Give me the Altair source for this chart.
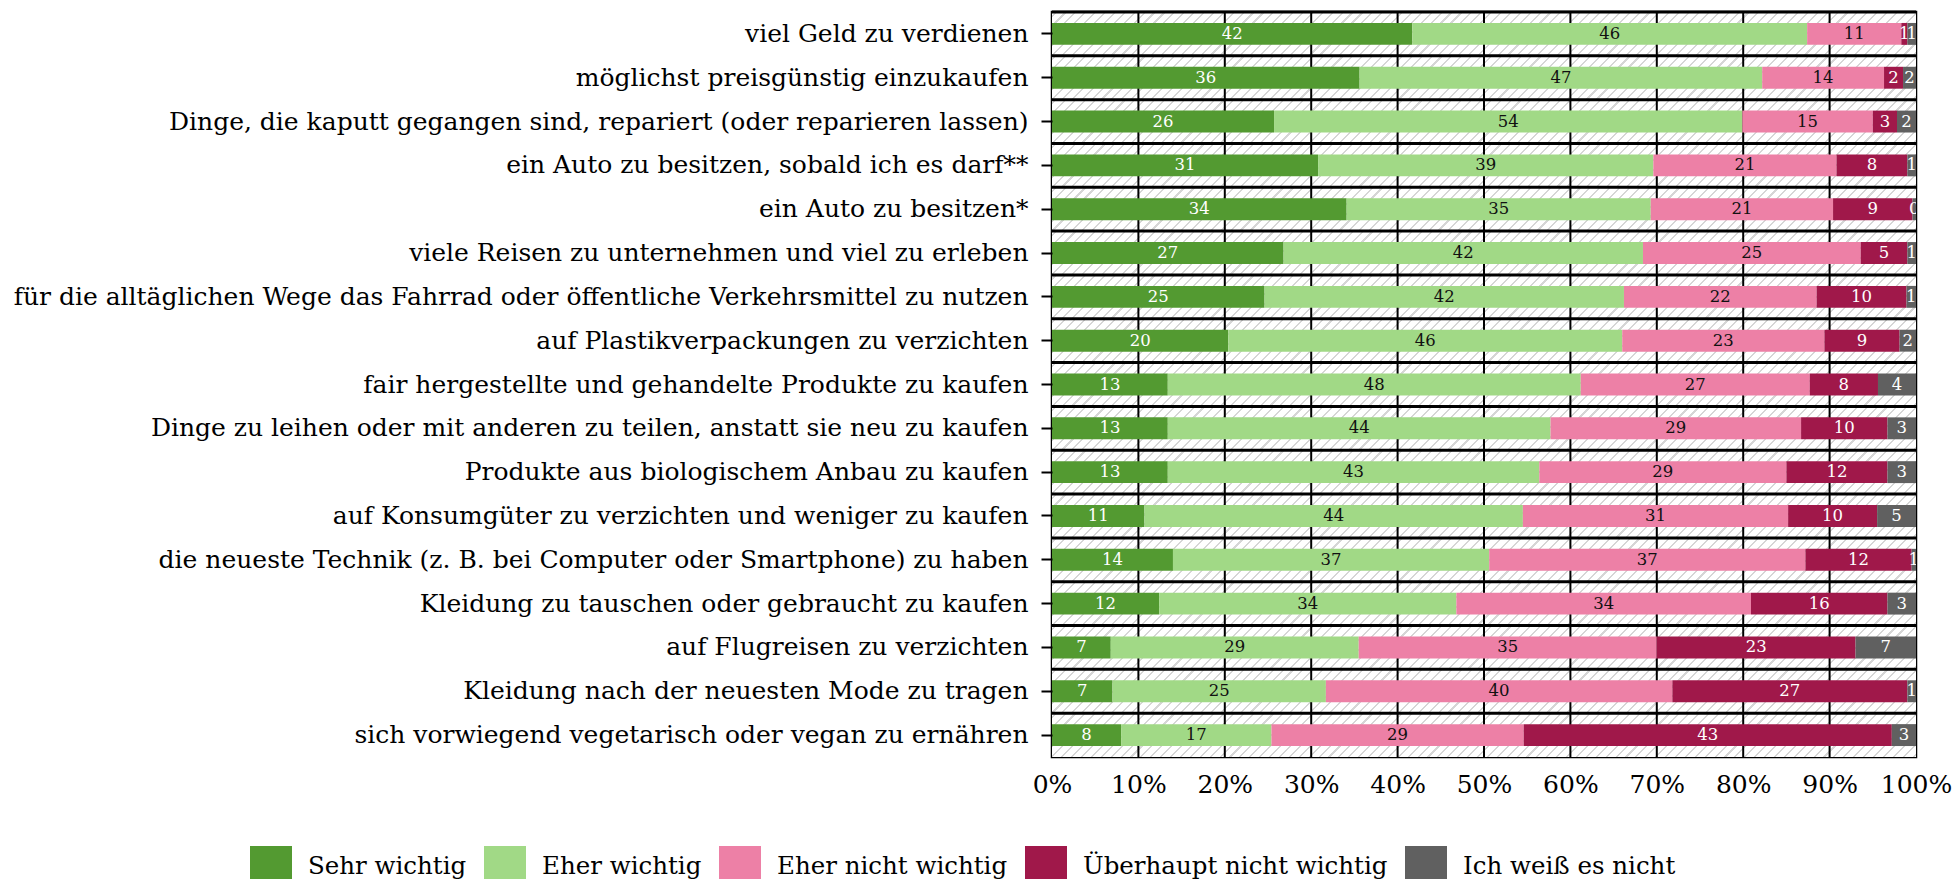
import math
import altair as alt
import pandas as pd

items = [
    "viel Geld zu verdienen",
    "möglichst preisgünstig einzukaufen",
    "Dinge, die kaputt gegangen sind, repariert (oder reparieren lassen)",
    "ein Auto zu besitzen, sobald ich es darf**",
    "ein Auto zu besitzen*",
    "viele Reisen zu unternehmen und viel zu erleben",
    "für die alltäglichen Wege das Fahrrad oder öffentliche Verkehrsmittel zu nutzen",
    "auf Plastikverpackungen zu verzichten",
    "fair hergestellte und gehandelte Produkte zu kaufen",
    "Dinge zu leihen oder mit anderen zu teilen, anstatt sie neu zu kaufen",
    "Produkte aus biologischem Anbau zu kaufen",
    "auf Konsumgüter zu verzichten und weniger zu kaufen",
    "die neueste Technik (z. B. bei Computer oder Smartphone) zu haben",
    "Kleidung zu tauschen oder gebraucht zu kaufen",
    "auf Flugreisen zu verzichten",
    "Kleidung nach der neuesten Mode zu tragen",
    "sich vorwiegend vegetarisch oder vegan zu ernähren",
]
cats = ["Sehr wichtig", "Eher wichtig", "Eher nicht wichtig",
        "Überhaupt nicht wichtig", "Ich weiß es nicht"]
colors = ["#539a31", "#a1d986", "#ed80a6", "#a0184a", "#606060"]

sehr = [41.7, 35.6, 25.7, 30.8, 34.1, 26.8, 24.6, 20.4, 13.4, 13.4, 13.4, 10.7, 14.0, 12.4, 6.8, 7.0, 8.0]
eher = [45.7, 46.6, 54.2, 38.8, 35.2, 41.6, 41.6, 45.6, 47.8, 44.3, 43.0, 43.8, 36.6, 34.4, 28.7, 24.7, 17.4]
eher_nicht = [10.9, 14.1, 15.1, 21.2, 21.1, 25.2, 22.3, 23.4, 26.5, 29.0, 28.6, 30.7, 36.6, 34.1, 34.5, 40.1, 29.2]
gar_nicht = [0.7, 2.2, 2.8, 8.2, 9.2, 5.4, 10.4, 8.7, 7.9, 10.0, 11.7, 10.3, 12.3, 15.8, 23.0, 27.2, 42.6]
weiss_nicht = [1.0, 1.5, 2.2, 1.0, 0.4, 1.0, 1.1, 1.9, 4.4, 3.3, 3.3, 4.5, 0.5, 3.3, 7.0, 1.0, 2.8]
x_ticks = list(range(0, 101, 10))

series = [sehr, eher, eher_nicht, gar_nicht, weiss_nicht]
rows = []
for i, item in enumerate(items):
    for j, cat in enumerate(cats):
        v = series[j][i]
        rows.append({"item": item, "cat": cat, "order": j, "v": v,
                     "lab": str(int(math.floor(v + 0.5)))})
df = pd.DataFrame(rows)
bg = pd.DataFrame({"item": items, "lo": 0, "hi": 100})
grid = pd.DataFrame({"t": x_ticks[1:-1]})

FONT = "DejaVu Serif"
W, H = 864, 745

# diagonal hatch as a gradient (style only)
r = (H / len(items)) / W
c = 1.05
D = c * W * (1 + r * r)
period, lw = 7 * math.sqrt(2), 1.5 * math.sqrt(2)
stops = [alt.GradientStop(offset=0, color="#ffffff")]
k = 0
while True:
    s0 = k * period + 3
    t0, t1 = s0 / D, (s0 + lw) / D
    if t1 >= 1:
        break
    stops += [alt.GradientStop(offset=round(t0, 5), color="#ffffff"),
              alt.GradientStop(offset=round(t0, 5), color="#d6d6d6"),
              alt.GradientStop(offset=round(t1, 5), color="#d6d6d6"),
              alt.GradientStop(offset=round(t1, 5), color="#ffffff")]
    k += 1
stops.append(alt.GradientStop(offset=1, color="#ffffff"))
hatch = alt.LinearGradient(gradient="linear", stops=stops, x1=0, y1=0, x2=c, y2=c * r)

yscale = alt.Scale(paddingInner=0, paddingOuter=0)
yaxis = alt.Axis(title=None, grid=False, domain=False, ticks=True, tickSize=11,
                 tickWidth=2, tickColor="black", labelFont=FONT, labelFontSize=25,
                 labelColor="black", labelPadding=13, labelLimit=1100)
xscale = alt.Scale(domain=[0, 100], nice=False, zero=True)
xaxis = alt.Axis(title=None, values=x_ticks, labelExpr="datum.value + '%'", grid=False,
                 ticks=False, domain=False, labelFont=FONT, labelFontSize=25,
                 labelColor="black", labelPadding=15, labelOverlap=False,
                 labelFlush=False)

Y = alt.Y("item:N", sort=items, scale=yscale, axis=yaxis, title=None)

back = alt.Chart(bg).mark_rect(fill=hatch).encode(
    y=Y,
    x=alt.X("lo:Q", scale=xscale, axis=xaxis, title=None),
    x2="hi:Q",
)

vrules = alt.Chart(grid).mark_rule(color="black", strokeWidth=2).encode(
    x=alt.X("t:Q", scale=xscale, axis=xaxis, title=None)
)

hrules = alt.Chart(bg).mark_rule(color="black", strokeWidth=3).encode(
    y=alt.Y("item:N", sort=items, scale=yscale, axis=yaxis, title=None, bandPosition=0)
)

stacked = alt.Chart(df).transform_stack(
    stack="v", groupby=["item"], as_=["x0", "x1"], sort=[alt.SortField("order")]
).transform_calculate(mid="(datum.x0 + datum.x1) / 2")

bars = stacked.mark_bar(height=alt.RelativeBandSize(0.5)).encode(
    y=Y,
    x=alt.X("x0:Q", scale=xscale, axis=xaxis, title=None),
    x2="x1:Q",
    color=alt.Color("cat:N", scale=alt.Scale(domain=cats, range=colors),
                    legend=alt.Legend(orient="none", legendX=-802, legendY=834,
                                      direction="horizontal", title=None,
                                      symbolType="square", symbolSize=1764,
                                      symbolStrokeWidth=0, symbolOpacity=1,
                                      labelFont=FONT, labelFontSize=24.5,
                                      labelColor="black", labelOffset=16,
                                      columnPadding=17, labelLimit=500, padding=0)),
)

texts = stacked.mark_text(font=FONT, fontSize=16.5, baseline="middle", align="center",
                          clip=True).encode(
    y=Y,
    x=alt.X("mid:Q", scale=xscale, axis=xaxis, title=None),
    text="lab:N",
    color=alt.condition(
        "datum.cat == 'Eher wichtig' || datum.cat == 'Eher nicht wichtig'",
        alt.value("#111111"), alt.value("#ffffff")),
)

chart = alt.layer(back, vrules, hrules, bars, texts).properties(
    width=W, height=H,
    autosize=alt.AutoSizeParams(type="none"),
    padding={"left": 1044, "top": 4, "right": 36, "bottom": 122},
).configure_view(stroke="black", strokeWidth=2.5)

chart.save("out.html", embed_options={"renderer": "svg", "actions": False})
